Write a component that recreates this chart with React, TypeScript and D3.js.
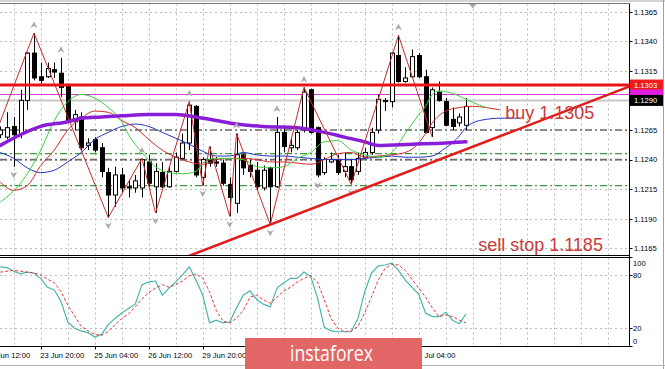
import React from 'react';
import * as d3 from 'd3';

// ---------- DATA ----------
const firstBarIndex = -1;
// [open, high, low, close] per H4 bar
const candles: [number, number, number, number][] = [
  [1.1261, 1.1268, 1.1258, 1.1265],
  [1.1259, 1.1280, 1.1257, 1.1267],
  [1.1268, 1.1276, 1.1234, 1.1261],
  [1.1262, 1.1299, 1.1258, 1.1290],
  [1.1290, 1.1331, 1.1282, 1.1330],
  [1.1330, 1.1347, 1.1307, 1.1309],
  [1.1310, 1.1322, 1.1303, 1.1307],
  [1.1310, 1.1322, 1.1309, 1.1317],
  [1.1316, 1.1322, 1.1309, 1.1314],
  [1.1313, 1.1326, 1.1293, 1.1301],
  [1.1303, 1.1304, 1.1272, 1.1273],
  [1.1272, 1.1282, 1.1265, 1.1278],
  [1.1276, 1.1280, 1.1248, 1.1250],
  [1.1252, 1.1258, 1.1248, 1.1254],
  [1.1257, 1.1259, 1.1246, 1.1248],
  [1.1250, 1.1254, 1.1225, 1.1230],
  [1.1229, 1.1233, 1.1191, 1.1210],
  [1.1210, 1.1234, 1.1200, 1.1227],
  [1.1227, 1.1233, 1.1212, 1.1216],
  [1.1217, 1.1223, 1.1208, 1.1216],
  [1.1216, 1.1227, 1.1212, 1.1222],
  [1.1216, 1.1241, 1.1208, 1.1240],
  [1.1238, 1.1244, 1.1217, 1.1220],
  [1.1217, 1.1237, 1.1195, 1.1230],
  [1.1229, 1.1238, 1.1216, 1.1217],
  [1.1217, 1.1234, 1.1216, 1.1230],
  [1.1230, 1.1246, 1.1229, 1.1242],
  [1.1241, 1.1262, 1.1240, 1.1254],
  [1.1254, 1.1289, 1.1248, 1.1286],
  [1.1285, 1.1286, 1.1225, 1.1227],
  [1.1225, 1.1242, 1.1218, 1.1240],
  [1.1240, 1.1251, 1.1234, 1.1237],
  [1.1238, 1.1242, 1.1234, 1.1237],
  [1.1237, 1.1240, 1.1218, 1.1220],
  [1.1219, 1.1225, 1.1192, 1.1208],
  [1.1203, 1.1262, 1.1195, 1.1244],
  [1.1244, 1.1246, 1.1227, 1.1233],
  [1.1235, 1.1240, 1.1225, 1.1230],
  [1.1231, 1.1238, 1.1214, 1.1217],
  [1.1216, 1.1235, 1.1214, 1.1231],
  [1.1233, 1.1234, 1.1185, 1.1217],
  [1.1217, 1.1276, 1.1216, 1.1263],
  [1.1263, 1.1267, 1.1246, 1.1251],
  [1.1250, 1.1258, 1.1246, 1.1252],
  [1.1250, 1.1265, 1.1248, 1.1263],
  [1.1265, 1.1301, 1.1263, 1.1297],
  [1.1299, 1.1300, 1.1262, 1.1263],
  [1.1267, 1.1268, 1.1225, 1.1227],
  [1.1229, 1.1242, 1.1227, 1.1240],
  [1.1238, 1.1246, 1.1237, 1.1240],
  [1.1240, 1.1244, 1.1227, 1.1229],
  [1.1230, 1.1246, 1.1225, 1.1234],
  [1.1234, 1.1240, 1.1219, 1.1223],
  [1.1230, 1.1246, 1.1227, 1.1241],
  [1.1242, 1.1250, 1.1241, 1.1246],
  [1.1246, 1.1267, 1.1244, 1.1263],
  [1.1265, 1.1295, 1.1262, 1.1291],
  [1.1289, 1.1292, 1.1281, 1.1290],
  [1.1289, 1.1331, 1.1284, 1.1330],
  [1.1328, 1.1345, 1.1305, 1.1306],
  [1.1306, 1.1318, 1.1305, 1.1309],
  [1.1310, 1.1333, 1.1309, 1.1327],
  [1.1328, 1.1330, 1.1309, 1.1310],
  [1.1310, 1.1316, 1.1262, 1.1263],
  [1.1267, 1.1301, 1.1259, 1.1299],
  [1.1297, 1.1306, 1.1289, 1.1290],
  [1.1289, 1.1292, 1.1268, 1.1269],
  [1.1274, 1.1284, 1.1265, 1.1268],
  [1.1271, 1.1279, 1.1268, 1.1276],
  [1.1269, 1.1292, 1.1265, 1.1285],
];

const priceTicks = [1.1365, 1.134, 1.1315, 1.129, 1.1265, 1.124, 1.1215, 1.119, 1.1165];
// labels that are not hidden behind the logo
const timeLabelBars = [-3, 5, 13, 21, 29, 61];
const timeLabels = ['22 Jun 12:00', '23 Jun 20:00', '25 Jun 04:00', '26 Jun 12:00', '29 Jun 20:00', '7 Jul 04:00'];

// [bar index, price]
const maSlow: [number, number][] = [
  [-1, 1.1252], [2, 1.1261], [5, 1.1268], [9, 1.1272], [11, 1.1275], [14, 1.1276], [17, 1.1277],
  [21, 1.1278], [25, 1.1278], [28, 1.1276], [31, 1.1273], [34, 1.1270], [38, 1.1268], [43, 1.1267],
  [47, 1.1263], [50, 1.1259], [53, 1.1255], [55, 1.1252], [60, 1.1253], [65, 1.1254], [68, 1.1255],
];
const jaw: [number, number][] = [
  [-1, 1.1246], [1, 1.1241], [3, 1.1233], [5, 1.1229], [7, 1.1231], [9, 1.1238], [11, 1.1246],
  [13, 1.1257], [15, 1.1263], [17, 1.1268], [19, 1.1270], [21, 1.1268], [23, 1.1263], [25, 1.1258],
  [27, 1.1253], [29, 1.1247], [31, 1.1243], [33, 1.1243], [35, 1.1246], [37, 1.1244], [39, 1.1243],
  [41, 1.1243], [43, 1.1242], [45, 1.1241], [47, 1.1240], [49, 1.1240], [51, 1.1240], [53, 1.1241],
  [55, 1.1242], [57, 1.1243], [59, 1.1242], [61, 1.1242], [63, 1.1243], [65, 1.1250], [66, 1.1254],
  [67, 1.1260], [68, 1.1267], [69, 1.1271], [71, 1.1274], [73, 1.1275], [76, 1.1275],
];
const teeth: [number, number][] = [
  [-1, 1.1221], [1, 1.1214], [3, 1.1218], [5, 1.1235], [7, 1.1248], [9, 1.1265], [11, 1.1275],
  [13, 1.1281], [15, 1.1280], [17, 1.1273], [19, 1.1267], [21, 1.1257], [23, 1.1248], [25, 1.1242],
  [27, 1.1238], [29, 1.1236], [31, 1.1240], [33, 1.1241], [35, 1.1241], [37, 1.1240], [39, 1.1238],
  [41, 1.1238], [43, 1.1237], [45, 1.1236], [47, 1.1240], [49, 1.1245], [51, 1.1246], [53, 1.1242],
  [55, 1.1243], [57, 1.1244], [59, 1.1246], [61, 1.1254], [62, 1.1262], [63, 1.1271], [65, 1.1281],
  [67, 1.1284], [69, 1.1285], [71, 1.1284], [73, 1.1282],
];
const lips: [number, number][] = [
  [-1, 1.1204], [2, 1.1220], [5, 1.1248], [7, 1.1273], [9, 1.1289], [11, 1.1295], [13, 1.1292],
  [15, 1.1284], [17, 1.1272], [18, 1.1261], [20, 1.1246], [22, 1.1234], [24, 1.1229], [26, 1.1228],
  [28, 1.1230], [29, 1.1237], [31, 1.1241], [33, 1.1241], [35, 1.1240], [37, 1.1234], [39, 1.1233],
  [41, 1.1234], [43, 1.1241], [45, 1.1246], [47, 1.1255], [49, 1.1256], [51, 1.1248], [53, 1.1244],
  [55, 1.1242], [57, 1.1246], [59, 1.1262], [61, 1.1278], [62, 1.1285], [63, 1.1295], [64, 1.1298],
  [66, 1.1296], [68, 1.1291], [70, 1.1286], [71, 1.1284],
];
const zigzag: [number, number][] = [
  [-2, 1.1257], [4, 1.1347], [15, 1.1191], [20, 1.1241], [22, 1.1195], [27, 1.1289], [29, 1.1218],
  [30, 1.1251], [33, 1.1192], [34, 1.1262], [39, 1.1185], [44, 1.1301], [51, 1.1219], [58, 1.1345],
  [63, 1.1259],
];
const fractalUpBars = [4, 8, 20, 27, 34, 40, 44, 58];
const fractalDownBars = [1, 15, 22, 29, 33, 39, 46, 51];

const stochK = [
  89, 88, 84, 81, 83, 82, 76, 66, 63, 50, 27, 20, 17, 15, 10, 13, 24, 31, 37, 42, 47, 69, 72, 73, 57,
  65, 72, 80, 89, 74, 57, 26, 29, 26, 27, 43, 57, 62, 52, 47, 44, 65, 71, 76, 76, 83, 78, 54, 21, 17,
  16, 16, 16, 31, 61, 82, 90, 91, 93, 85, 74, 66, 58, 37, 33, 33, 38, 29, 25, 36,
];
const stochD = [
  83, 84, 85, 84, 83, 82, 80, 75, 71, 61, 46, 34, 22, 17, 13, 12, 16, 24, 31, 36, 44, 53, 60, 65, 69,
  66, 69, 73, 79, 81, 76, 61, 40, 28, 26, 31, 40, 55, 57, 52, 48, 55, 62, 66, 72, 76, 79, 72, 52, 31,
  20, 16, 17, 22, 37, 55, 74, 87, 92, 91, 85, 75, 65, 55, 43, 33, 35, 33, 29, 26,
];
const stochTicks = [100, 80, 20, 0];
const stochLevels = [80, 20];

const resistanceLevel = 1.1303;
const magentaLevel = 1.1295;
const bidPrice = 1.129;
const grayLevels = [1.1265, 1.124];
const greenLevels = [1.1245, 1.1218];
const trendAnchors: [number, number][] = [[39, 1.1185], [92.15, 1.13016]];
const shiftBar = 69;

const buyLabel = 'buy 1.1305';
const sellLabel = 'sell stop 1.1185';
const buyAnchor: [number, number] = [73.8, 1.1274];
const sellAnchor: [number, number] = [69.8, 1.11628];
const logoText = 'instaforex';

// ---------- CHART ----------
export default function App() {
  const W = 665, H = 369;
  const PR = 629.5;
  const mainTop = 3.5, mainBottom = 255.5;
  const stTop = 257.5, stBottom = 346.5;

  const x = d3.scaleLinear().domain([0, 68]).range([7, 466]);
  const y = d3.scaleLinear().domain([1.1165, 1.1365]).range([248.3, 11.7]);
  const ys = d3.scaleLinear().domain([0, 100]).range([346, 257]);

  const priceLine = d3.line<[number, number]>().x(d => x(d[0])).y(d => y(d[1])).curve(d3.curveMonotoneX);
  const zigLine = d3.line<[number, number]>().x(d => x(d[0])).y(d => y(d[1]));
  const stLine = d3.line<number>().x((_, k) => x(firstBarIndex + k)).y(d => ys(d));

  const gridXs = d3.range(1, 95, 4).map(i => x(i)).filter(v => v < PR - 1);
  const axisFont = "'Liberation Sans', Arial, sans-serif";

  const [a, b] = trendAnchors;
  const slope = (b[1] - a[1]) / (b[0] - a[0]);
  const tStart = 20;
  const trendPts: [number, number][] = [[tStart, a[1] + slope * (tStart - a[0])], b];

  const bar = (i: number) => candles[i - firstBarIndex];
  const crisp = (v: number) => Math.round(v) + 0.5;

  return (
    <svg width={W} height={H} viewBox={`0 0 ${W} ${H}`} style={{ position: 'absolute', left: 0, top: 0, background: '#fff' }}>
      <defs>
        <clipPath id="mainClip"><rect x={0} y={mainTop} width={PR} height={mainBottom - mainTop} /></clipPath>
        <clipPath id="stClip"><rect x={0} y={stTop} width={PR} height={stBottom - stTop} /></clipPath>
        <clipPath id="axisClip"><rect x={0} y={stBottom} width={W} height={H - stBottom} /></clipPath>
      </defs>
      <rect x={0} y={0} width={W} height={H} fill="#fff" />
      <line x1={0} x2={W} y1={1} y2={1} stroke="#c4c4c4" strokeWidth={1.5} />

      {/* grid */}
      <g stroke="#bdbdbd" strokeWidth={1} strokeDasharray="2,3">
        {gridXs.map((gx, k) => (
          <line key={'gx' + k} x1={crisp(gx)} x2={crisp(gx)} y1={mainTop} y2={mainBottom} />
        ))}
        {priceTicks.map((p, k) => (
          <line key={'gy' + k} x1={0} x2={PR} y1={crisp(y(p))} y2={crisp(y(p))} />
        ))}
        {gridXs.map((gx, k) => (
          <line key={'sgx' + k} x1={crisp(gx)} x2={crisp(gx)} y1={stTop} y2={stBottom} />
        ))}
        {stochLevels.map((v, k) => (
          <line key={'sgy' + k} x1={0} x2={PR} y1={crisp(ys(v))} y2={crisp(ys(v))} />
        ))}
      </g>

      {/* main chart */}
      <g clipPath="url(#mainClip)">
        {grayLevels.map((p, k) => (
          <line key={'gl' + k} x1={0} x2={PR} y1={y(p)} y2={y(p)} stroke="#6e6e6e" strokeWidth={1.6} strokeDasharray="7,3,2,3" />
        ))}
        {greenLevels.map((p, k) => (
          <line key={'grl' + k} x1={0} x2={PR} y1={y(p)} y2={y(p)} stroke="#3f9a3f" strokeWidth={1.2} strokeDasharray="7,3,2,3" />
        ))}
        <line x1={0} x2={PR} y1={y(bidPrice)} y2={y(bidPrice)} stroke="#c8c8c8" strokeWidth={2} />
        <line x1={0} x2={PR} y1={y(magentaLevel)} y2={y(magentaLevel)} stroke="#d23cd2" strokeWidth={1} />

        {candles.map((c, k) => {
          const i = firstBarIndex + k;
          const [o, h, l, cl] = c;
          const cx = crisp(x(i));
          const bull = cl >= o;
          const top = y(Math.max(o, cl));
          const bot = y(Math.min(o, cl));
          return (
            <g key={'c' + k}>
              <line x1={cx} x2={cx} y1={y(h)} y2={y(l)} stroke="#000" strokeWidth={1} />
              <rect x={cx - 2} y={top} width={4} height={Math.max(0.8, bot - top)} fill={bull ? '#fff' : '#000'} stroke="#000" strokeWidth={1} />
            </g>
          );
        })}

        <path d={priceLine(jaw) || ''} fill="none" stroke="#2233c4" strokeWidth={1} />
        <path d={priceLine(teeth) || ''} fill="none" stroke="#d02a2a" strokeWidth={1} />
        <path d={priceLine(lips) || ''} fill="none" stroke="#3ccf3c" strokeWidth={1} />
        <path d={priceLine(maSlow) || ''} fill="none" stroke="#8a1ed8" strokeWidth={3.5} strokeLinecap="round" />

        <path d={zigLine(zigzag) || ''} fill="none" stroke="#c62a2a" strokeWidth={1} />

        {fractalUpBars.map((i, k) => {
          const fx = x(i);
          const fy = y(bar(i)[1]) - 8;
          return <path key={'fu' + k} d={`M${fx - 3.5},${fy + 3} L${fx},${fy - 3.5} L${fx + 3.5},${fy + 3} L${fx},${fy + 1} Z`} fill="#a9a9a9" />;
        })}
        {fractalDownBars.map((i, k) => {
          const fx = x(i);
          const fy = y(bar(i)[2]) + 8;
          return <path key={'fd' + k} d={`M${fx - 3.5},${fy - 3} L${fx},${fy + 3.5} L${fx + 3.5},${fy - 3} L${fx},${fy - 1} Z`} fill="#a9a9a9" />;
        })}

        <line x1={0} x2={PR} y1={y(resistanceLevel)} y2={y(resistanceLevel)} stroke="#e8141a" strokeWidth={3} />
        <line x1={x(trendPts[0][0])} y1={y(trendPts[0][1])} x2={x(trendPts[1][0])} y2={y(trendPts[1][1])} stroke="#e41b1b" strokeWidth={2.5} />

        <text x={x(buyAnchor[0])} y={y(buyAnchor[1])} fontFamily="'Liberation Sans', Arial, sans-serif" fontSize={18} fill="#c83a3a">{buyLabel}</text>
        <text x={x(sellAnchor[0])} y={y(sellAnchor[1])} fontFamily="'Liberation Sans', Arial, sans-serif" fontSize={18} fill="#c83a3a">{sellLabel}</text>

        <path d={`M${x(shiftBar) - 4},${mainTop} L${x(shiftBar) + 4},${mainTop} L${x(shiftBar)},${mainTop + 5} Z`} fill="#a8a8a8" />
      </g>

      {/* stochastic */}
      <g clipPath="url(#stClip)">
        <path d={stLine(stochK) || ''} fill="none" stroke="#4ab5ad" strokeWidth={1.2} />
        <path d={stLine(stochD) || ''} fill="none" stroke="#e03a3a" strokeWidth={1} strokeDasharray="3,2" />
      </g>

      {/* borders */}
      <line x1={0} x2={PR} y1={mainTop} y2={mainTop} stroke="#7a7a7a" strokeWidth={1} />
      <line x1={0} x2={PR} y1={mainBottom} y2={mainBottom} stroke="#000" strokeWidth={1} />
      <line x1={0} x2={PR} y1={stTop} y2={stTop} stroke="#000" strokeWidth={1} />
      <line x1={0} x2={PR} y1={stBottom} y2={stBottom} stroke="#000" strokeWidth={1} />
      <line x1={PR} x2={PR} y1={mainTop} y2={stBottom} stroke="#000" strokeWidth={1} />
      <line x1={663.5} x2={663.5} y1={0} y2={H} stroke="#a0a0a0" strokeWidth={1} />

      {/* price axis */}
      {priceTicks.filter(p => p !== bidPrice).map((p, k) => (
        <g key={'pt' + k}>
          <line x1={PR} x2={PR + 3} y1={crisp(y(p))} y2={crisp(y(p))} stroke="#000" />
          <text x={634} y={y(p) + 2.8} fontFamily={axisFont} fontSize={7.6} fill="#000">{p.toFixed(4)}</text>
        </g>
      ))}
      <rect x={630} y={y(resistanceLevel) - 5.5} width={33} height={11} fill="#ee1c1c" />
      <text x={634} y={y(resistanceLevel) + 2.8} fontFamily={axisFont} fontSize={7.6} fill="#fff">{resistanceLevel.toFixed(4)}</text>
      <rect x={630} y={y(magentaLevel) - 5} width={33} height={10} fill="#e020e0" />
      <rect x={630} y={y(bidPrice) - 5.5} width={33} height={11} fill="#000" />
      <text x={634} y={y(bidPrice) + 2.8} fontFamily={axisFont} fontSize={7.6} fill="#fff">{bidPrice.toFixed(4)}</text>

      {/* stochastic axis */}
      {stochTicks.map((v, k) => {
        const ty = Math.min(Math.max(ys(v), 263), 341);
        return (
          <g key={'st' + k}>
            <line x1={PR} x2={PR + 3} y1={crisp(ys(v))} y2={crisp(ys(v))} stroke="#000" />
            <text x={633} y={ty + 2.8} fontFamily={axisFont} fontSize={7.6} fill="#000">{v}</text>
          </g>
        );
      })}

      {/* time axis */}
      <g clipPath="url(#axisClip)">
        {timeLabelBars.map((i, k) => (
          <g key={'tl' + k}>
            <line x1={crisp(x(i))} x2={crisp(x(i))} y1={stBottom} y2={stBottom + 3} stroke="#000" />
            <text x={x(i) - 0.5} y={357.5} fontFamily={axisFont} fontSize={7.6} fill="#000">{timeLabels[k]}</text>
          </g>
        ))}
      </g>

      <line x1={0} x2={W} y1={365.5} y2={365.5} stroke="#b4b4b4" strokeWidth={1} />

      {/* logo */}
      <rect x={245} y={338} width={177} height={H - 338} fill="#e26666" />
      <text x={290} y={361} fontFamily="'Open Sans', 'Liberation Sans', sans-serif" fontSize={22} fill="#fff" textLength={83} lengthAdjust="spacingAndGlyphs">{logoText}</text>
    </svg>
  );
}
